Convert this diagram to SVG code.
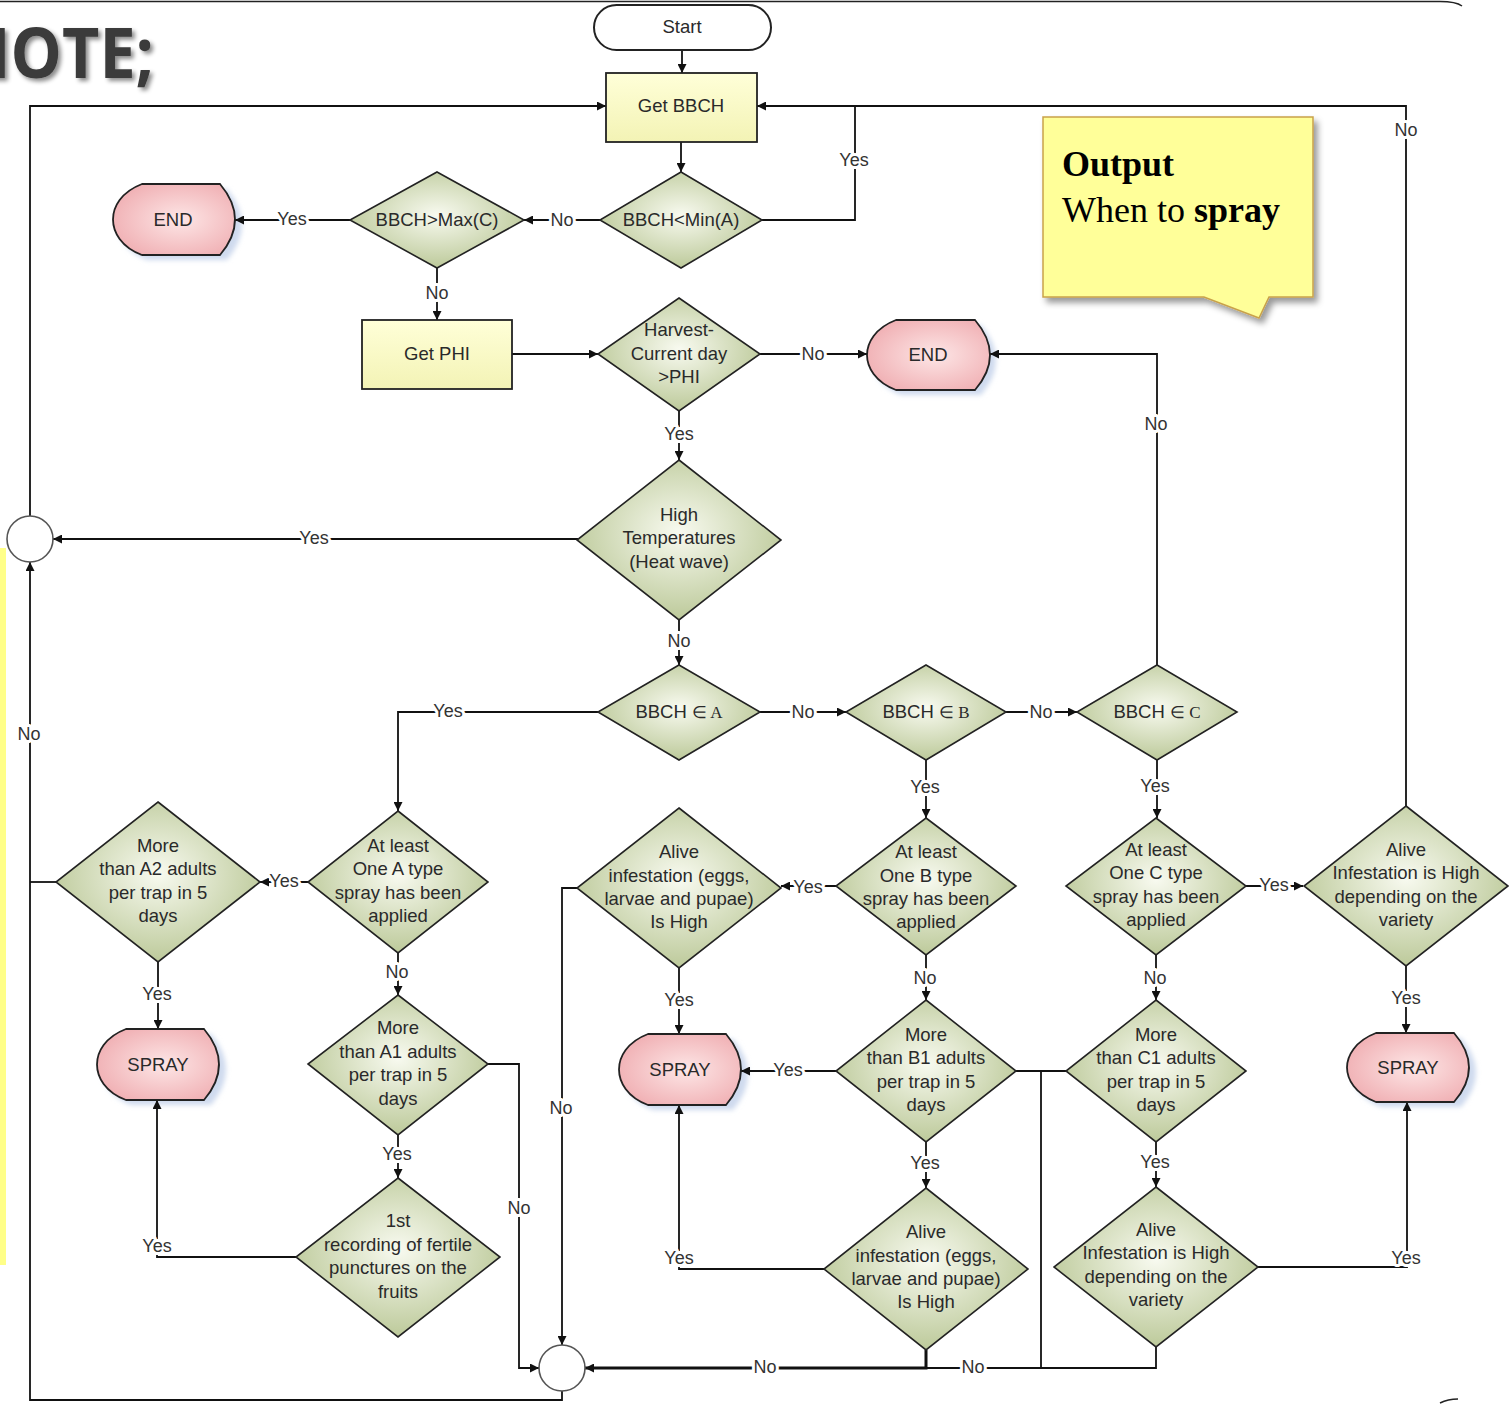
<svg xmlns="http://www.w3.org/2000/svg" width="1509" height="1404" viewBox="0 0 1509 1404">
<style>
.t{font-family:"Liberation Sans",Arial,sans-serif;font-size:18.5px;fill:#2a2a2a;text-anchor:middle}
.s{font-family:"Liberation Serif","Times New Roman",serif;font-size:17px}
.lbl{font-family:"Liberation Sans",Arial,sans-serif;font-size:18px;fill:#333;text-anchor:middle;paint-order:stroke;stroke:#fff;stroke-width:6px;stroke-linejoin:round}
.d{fill:url(#gd);stroke:#222;stroke-width:1.6}
.r{fill:url(#gy);stroke:#222;stroke-width:1.8}
.p{fill:url(#gp);stroke:#222;stroke-width:1.8}
.ps{fill:#cfdaee;filter:url(#bl)}
.c{fill:#fff;stroke:#555;stroke-width:1.6}
.ln{fill:none;stroke:#111;stroke-width:1.8}
.la{fill:none;stroke:#111;stroke-width:1.8;marker-end:url(#ah)}
.th{fill:none;stroke:#111;stroke-width:3;marker-end:url(#ah)}
</style>
<defs>
<radialGradient id="gd" cx="50%" cy="45%" r="60%"><stop offset="0" stop-color="#F8FAF0"/><stop offset="1" stop-color="#B7C592"/></radialGradient>
<linearGradient id="gy" x1="0" y1="0" x2="0" y2="1"><stop offset="0" stop-color="#FFFFD8"/><stop offset="1" stop-color="#F3F3B5"/></linearGradient>
<radialGradient id="gp" cx="55%" cy="50%" r="60%"><stop offset="0" stop-color="#FDE6E6"/><stop offset="1" stop-color="#F0AFB3"/></radialGradient>
<marker id="ah" viewBox="0 0 10 10" refX="10" refY="5" markerWidth="10" markerHeight="9" markerUnits="userSpaceOnUse" orient="auto"><path d="M0,0 L10,5 L0,10 z" fill="#111"/></marker>
<filter id="bl" x="-20%" y="-20%" width="140%" height="140%"><feGaussianBlur stdDeviation="2.5"/></filter>
<filter id="tsh" x="-10%" y="-10%" width="130%" height="140%"><feDropShadow dx="3" dy="3" stdDeviation="2" flood-color="#000" flood-opacity="0.45"/></filter>
<filter id="csh" x="-10%" y="-10%" width="130%" height="140%"><feDropShadow dx="4" dy="5" stdDeviation="3" flood-color="#000" flood-opacity="0.4"/></filter>
</defs>

<g id="frame">
<path d="M0,1.5 H1440 Q1456,1.5 1462,6" fill="none" stroke="#222" stroke-width="1.5"/>
<path d="M1440,1403 Q1448,1399 1458,1399" fill="none" stroke="#222" stroke-width="1.5"/>
<rect x="0" y="548" width="6" height="717" fill="#FFFF88"/>
<text x="-42" y="78" textLength="196" lengthAdjust="spacingAndGlyphs" font-family="'Open Sans','Liberation Sans',sans-serif" font-weight="bold" font-size="70" fill="#3a3a3a" filter="url(#tsh)">NOTE;</text>
</g>

<g id="callout">
<path d="M1043,117 H1313 V297 H1269 L1259,318 L1204,297 H1043 Z" fill="#FFFF99" stroke="#C9A24A" stroke-width="1.5" filter="url(#csh)"/>
<text x="1062" y="176" font-family="'Liberation Serif','Times New Roman',serif" font-size="36" font-weight="bold" fill="#000">Output</text>
<text x="1062" y="222" font-family="'Liberation Serif','Times New Roman',serif" font-size="36" fill="#000">When to <tspan font-weight="bold">spray</tspan></text>
</g>

<g id="shadows">
<path class="ps" d="M147,189 L227,189 Q257,224.5 227,260 L147,260 C126,252 118,237 118,224.5 C118,212 126,197 147,189 Z"/>
<path class="ps" d="M901,325 L981,325 Q1011,360 981,395 L901,395 C880,387 872,372 872,360 C872,348 880,333 901,325 Z"/>
<path class="ps" d="M131,1034 L211,1034 Q241,1069.5 211,1105 L131,1105 C110,1097 102,1082 102,1069.5 C102,1057 110,1042 131,1034 Z"/>
<path class="ps" d="M653,1039 L733,1039 Q763,1074.5 733,1110 L653,1110 C632,1102 624,1087 624,1074.5 C624,1062 632,1047 653,1039 Z"/>
<path class="ps" d="M1381,1038 L1461,1038 Q1491,1072.5 1461,1107 L1381,1107 C1360,1099 1352,1084 1352,1072.5 C1352,1061 1360,1046 1381,1038 Z"/>
</g>

<g id="connectors">
<path class="la" d="M682,50 V73"/>
<path class="la" d="M681,142 V172"/>
<path class="ln" d="M762,220 H855 V106"/>
<path class="la" d="M1406,806 V106 H757"/>
<path class="la" d="M600,220 H524"/>
<path class="la" d="M350,220 H235"/>
<path class="la" d="M437,268 V320"/>
<path class="la" d="M512,354 H598"/>
<path class="la" d="M760,354 H867"/>
<path class="la" d="M679,411 V460"/>
<path class="la" d="M578,539 H53"/>
<path class="la" d="M30,516 V106 H606"/>
<path class="la" d="M679,620 V665"/>
<path class="la" d="M600,712 H398 V811"/>
<path class="la" d="M760,712 H846"/>
<path class="la" d="M1006,712 H1077"/>
<path class="la" d="M1157,665 V354 H990"/>
<path class="la" d="M926,760 V818"/>
<path class="la" d="M1157,760 V818"/>
<path class="la" d="M308,882 H260"/>
<path class="ln" d="M56,882 H30"/>
<path class="la" d="M562,1391 V1400 H30 V562"/>
<path class="la" d="M158,962 V1029"/>
<path class="la" d="M398,953 V995"/>
<path class="la" d="M488,1064 H519 V1368 H539"/>
<path class="la" d="M398,1135 V1178"/>
<path class="la" d="M296,1257 H157 V1100"/>
<path class="la" d="M578,888 H562 V1345"/>
<path class="la" d="M836,886 H781"/>
<path class="la" d="M679,968 V1034"/>
<path class="la" d="M926,955 V1000"/>
<path class="la" d="M836,1071 H741"/>
<path class="la" d="M926,1142 V1188"/>
<path class="la" d="M824,1269 H679 V1105"/>
<path class="th" d="M926,1350 V1368 H585"/>
<path class="ln" d="M1156,1347 V1368 H926"/>
<path class="ln" d="M1016,1071 H1066"/>
<path class="ln" d="M1041,1071 V1368"/>
<path class="la" d="M1246,886 H1303"/>
<path class="la" d="M1156,955 V1000"/>
<path class="la" d="M1156,1142 V1187"/>
<path class="la" d="M1258,1267 H1407 V1102"/>
<path class="la" d="M1406,966 V1033"/>
</g>

<g id="labels">
<text class="lbl" x="854" y="166">Yes</text>
<text class="lbl" x="1406" y="136">No</text>
<text class="lbl" x="562" y="226">No</text>
<text class="lbl" x="292" y="225">Yes</text>
<text class="lbl" x="437" y="299">No</text>
<text class="lbl" x="813" y="360">No</text>
<text class="lbl" x="679" y="440">Yes</text>
<text class="lbl" x="314" y="544">Yes</text>
<text class="lbl" x="679" y="647">No</text>
<text class="lbl" x="448" y="717">Yes</text>
<text class="lbl" x="803" y="718">No</text>
<text class="lbl" x="1041" y="718">No</text>
<text class="lbl" x="1156" y="430">No</text>
<text class="lbl" x="925" y="793">Yes</text>
<text class="lbl" x="1155" y="792">Yes</text>
<text class="lbl" x="284" y="887">Yes</text>
<text class="lbl" x="29" y="740">No</text>
<text class="lbl" x="157" y="1000">Yes</text>
<text class="lbl" x="397" y="978">No</text>
<text class="lbl" x="519" y="1214">No</text>
<text class="lbl" x="397" y="1160">Yes</text>
<text class="lbl" x="157" y="1252">Yes</text>
<text class="lbl" x="561" y="1114">No</text>
<text class="lbl" x="808" y="893">Yes</text>
<text class="lbl" x="679" y="1006">Yes</text>
<text class="lbl" x="925" y="984">No</text>
<text class="lbl" x="788" y="1076">Yes</text>
<text class="lbl" x="925" y="1169">Yes</text>
<text class="lbl" x="679" y="1264">Yes</text>
<text class="lbl" x="765" y="1373">No</text>
<text class="lbl" x="973" y="1373">No</text>
<text class="lbl" x="1274" y="891">Yes</text>
<text class="lbl" x="1155" y="984">No</text>
<text class="lbl" x="1155" y="1168">Yes</text>
<text class="lbl" x="1406" y="1264">Yes</text>
<text class="lbl" x="1406" y="1004">Yes</text>
</g>

<g id="start"><rect x="594" y="5" width="177" height="45" rx="22.5" fill="#fff" stroke="#222" stroke-width="2"/><text class="t" x="682" y="33">Start</text></g>

<g id="getbbch"><rect x="606" y="73" width="151" height="69" class="r"/><text class="t" x="681" y="112">Get BBCH</text></g>

<g id="bbchmin"><polygon class="d" points="681,172 762,220 681,268 600,220"/><text class="t" x="681" y="226">BBCH&lt;Min(A)</text></g>

<g id="bbchmax"><polygon class="d" points="437,172 524,220 437,268 350,220"/><text class="t" x="437" y="226">BBCH&gt;Max(C)</text></g>

<g id="end1">
<path class="p" d="M142,184 L220,184 Q250,219.5 220,255 L142,255 C121,247 113,232 113,219.5 C113,207 121,192 142,184 Z"/>
<text class="t" x="173" y="226">END</text></g>

<g id="getphi"><rect x="362" y="320" width="150" height="69" class="r"/><text class="t" x="437" y="360">Get PHI</text></g>

<g id="harvest"><polygon class="d" points="679,298 760,354 679,411 598,354"/>
<text class="t" x="679" y="336">Harvest-</text><text class="t" x="679" y="360">Current day</text><text class="t" x="679" y="383">&gt;PHI</text></g>

<g id="end2">
<path class="p" d="M896,320 L975,320 Q1005,355 975,390 L896,390 C875,382 867,367 867,355 C867,343 875,328 896,320 Z"/>
<text class="t" x="928" y="361">END</text></g>

<g id="hightemp"><polygon class="d" points="679,460 781,540 679,620 577,540"/>
<text class="t" x="679" y="521">High</text><text class="t" x="679" y="544">Temperatures</text><text class="t" x="679" y="568">(Heat wave)</text></g>

<g id="circle1"><circle class="c" cx="30" cy="539" r="23"/></g>

<g id="bbcha"><polygon class="d" points="679,665 760,712 679,760 598,712"/><text class="t" x="679" y="718">BBCH <tspan class="s">∈ A</tspan></text></g>
<g id="bbchb"><polygon class="d" points="926,665 1006,712 926,760 846,712"/><text class="t" x="926" y="718">BBCH <tspan class="s">∈ B</tspan></text></g>
<g id="bbchc"><polygon class="d" points="1157,665 1237,712 1157,760 1077,712"/><text class="t" x="1157" y="718">BBCH <tspan class="s">∈ C</tspan></text></g>

<g id="atleasta"><polygon class="d" points="398,811 488,882 398,953 308,882"/>
<text class="t" x="398" y="852">At least</text><text class="t" x="398" y="875">One A type</text><text class="t" x="398" y="899">spray has been</text><text class="t" x="398" y="922">applied</text></g>

<g id="morea2"><polygon class="d" points="158,802 260,882 158,962 56,882"/>
<text class="t" x="158" y="852">More</text><text class="t" x="158" y="875">than A2 adults</text><text class="t" x="158" y="899">per trap in 5</text><text class="t" x="158" y="922">days</text></g>

<g id="spray1">
<path class="p" d="M126,1029 L204,1029 Q234,1064.5 204,1100 L126,1100 C105,1092 97,1077 97,1064.5 C97,1052 105,1037 126,1029 Z"/>
<text class="t" x="158" y="1071" font-size="19">SPRAY</text></g>

<g id="morea1"><polygon class="d" points="398,995 488,1064 398,1135 308,1064"/>
<text class="t" x="398" y="1034">More</text><text class="t" x="398" y="1058">than A1 adults</text><text class="t" x="398" y="1081">per trap in 5</text><text class="t" x="398" y="1105">days</text></g>

<g id="firstrec"><polygon class="d" points="398,1178 500,1257 398,1337 296,1257"/>
<text class="t" x="398" y="1227">1st</text><text class="t" x="398" y="1251">recording of fertile</text><text class="t" x="398" y="1274">punctures on the</text><text class="t" x="398" y="1298">fruits</text></g>

<g id="aliveb1"><polygon class="d" points="679,808 781,888 679,968 577,888"/>
<text class="t" x="679" y="858">Alive</text><text class="t" x="679" y="882">infestation (eggs,</text><text class="t" x="679" y="905">larvae and pupae)</text><text class="t" x="679" y="928">Is High</text></g>

<g id="atleastb"><polygon class="d" points="926,818 1016,886 926,955 836,886"/>
<text class="t" x="926" y="858">At least</text><text class="t" x="926" y="882">One B type</text><text class="t" x="926" y="905">spray has been</text><text class="t" x="926" y="928">applied</text></g>

<g id="atleastc"><polygon class="d" points="1156,818 1246,886 1156,955 1066,886"/>
<text class="t" x="1156" y="856">At least</text><text class="t" x="1156" y="879">One C type</text><text class="t" x="1156" y="903">spray has been</text><text class="t" x="1156" y="926">applied</text></g>

<g id="alivec1"><polygon class="d" points="1406,806 1508,886 1406,966 1304,886"/>
<text class="t" x="1406" y="856">Alive</text><text class="t" x="1406" y="879">Infestation is High</text><text class="t" x="1406" y="903">depending on the</text><text class="t" x="1406" y="926">variety</text></g>

<g id="spray2">
<path class="p" d="M648,1034 L726,1034 Q756,1069.5 726,1105 L648,1105 C627,1097 619,1082 619,1069.5 C619,1057 627,1042 648,1034 Z"/>
<text class="t" x="680" y="1076" font-size="19">SPRAY</text></g>

<g id="moreb1"><polygon class="d" points="926,1000 1016,1071 926,1142 836,1071"/>
<text class="t" x="926" y="1041">More</text><text class="t" x="926" y="1064">than B1 adults</text><text class="t" x="926" y="1088">per trap in 5</text><text class="t" x="926" y="1111">days</text></g>

<g id="morec1"><polygon class="d" points="1156,1000 1246,1071 1156,1142 1066,1071"/>
<text class="t" x="1156" y="1041">More</text><text class="t" x="1156" y="1064">than C1 adults</text><text class="t" x="1156" y="1088">per trap in 5</text><text class="t" x="1156" y="1111">days</text></g>

<g id="aliveb2"><polygon class="d" points="926,1188 1028,1269 926,1350 824,1269"/>
<text class="t" x="926" y="1238">Alive</text><text class="t" x="926" y="1262">infestation (eggs,</text><text class="t" x="926" y="1285">larvae and pupae)</text><text class="t" x="926" y="1308">Is High</text></g>

<g id="alivec2"><polygon class="d" points="1156,1187 1258,1267 1156,1347 1054,1267"/>
<text class="t" x="1156" y="1236">Alive</text><text class="t" x="1156" y="1259">Infestation is High</text><text class="t" x="1156" y="1283">depending on the</text><text class="t" x="1156" y="1306">variety</text></g>

<g id="spray3">
<path class="p" d="M1376,1033 L1454,1033 Q1484,1067.5 1454,1102 L1376,1102 C1355,1094 1347,1079 1347,1067.5 C1347,1056 1355,1041 1376,1033 Z"/>
<text class="t" x="1408" y="1074" font-size="19">SPRAY</text></g>

<g id="circle2"><circle class="c" cx="562" cy="1368" r="23"/></g>
</svg>
